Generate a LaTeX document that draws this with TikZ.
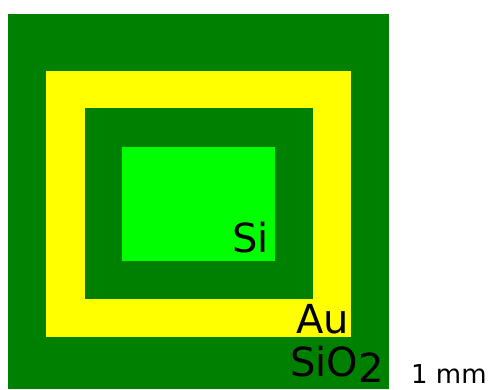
\documentclass[tikz,border=0pt]{standalone}
\usepackage{fontspec}
\setmainfont{DejaVu Sans}
\definecolor{dgreen}{HTML}{008000}
\definecolor{lgreen}{HTML}{00FF00}
\definecolor{yel}{HTML}{FFFF00}
\begin{document}
\begin{tikzpicture}[x=1pt,y=-1pt,
  lbl/.style={anchor=base east,inner sep=0pt,font=\fontsize{40}{42}\selectfont},
  sm/.style={anchor=base west,inner sep=0pt,font=\fontsize{26}{28}\selectfont}]
\useasboundingbox (0,0) rectangle (488,389);
\fill[dgreen] (8,14) rectangle (389,389);
\fill[yel] (46,71) rectangle (351,337);
\fill[dgreen] (85,108) rectangle (313,299);
\fill[lgreen] (122,147) rectangle (275,261);
\node[lbl] (si) at (269,252) {Si};
\node[lbl] (au) at (349,333) {Au};
\node[lbl] (sio) at (384,376) {SiO\raisebox{-0.3ex}{2}};
\node[sm] (mm) at (411,383) {1 mm};
\end{tikzpicture}
\end{document}
